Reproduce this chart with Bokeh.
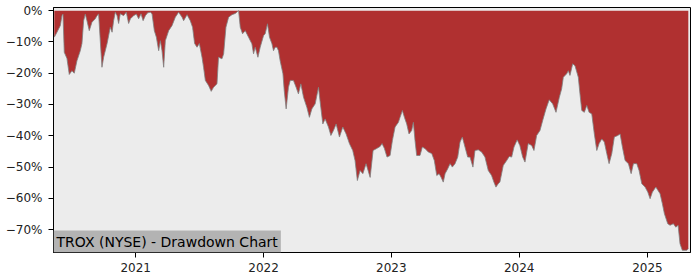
from datetime import datetime
from bokeh.plotting import figure
from bokeh.models import Range1d, FixedTicker, CustomJSTickFormatter, Label
from bokeh.embed import file_html
from bokeh.resources import INLINE

# ---- data ----
dec_years = [
    2020.365, 2020.386, 2020.412, 2020.425, 2020.433, 2020.443, 2020.464, 2020.482, 2020.503, 2020.521,
    2020.542, 2020.568, 2020.581, 2020.594, 2020.607, 2020.620, 2020.638, 2020.659, 2020.685, 2020.698,
    2020.711, 2020.724, 2020.737, 2020.750, 2020.777, 2020.802, 2020.816, 2020.828, 2020.841, 2020.855,
    2020.867, 2020.880, 2020.906, 2020.927, 2020.945, 2020.959, 2020.984, 2021.005, 2021.023, 2021.042,
    2021.058, 2021.076, 2021.094, 2021.115, 2021.128, 2021.146, 2021.162, 2021.180, 2021.193, 2021.206,
    2021.219, 2021.232, 2021.258, 2021.284, 2021.310, 2021.336, 2021.363, 2021.375, 2021.402, 2021.427,
    2021.445, 2021.461, 2021.480, 2021.498, 2021.519, 2021.531, 2021.545, 2021.570, 2021.591, 2021.609,
    2021.636, 2021.648, 2021.675, 2021.688, 2021.706, 2021.727, 2021.753, 2021.779, 2021.805, 2021.818,
    2021.836, 2021.857, 2021.883, 2021.909, 2021.922, 2021.935, 2021.956, 2021.974, 2022.000, 2022.013,
    2022.031, 2022.047, 2022.066, 2022.078, 2022.091, 2022.105, 2022.117, 2022.130, 2022.152, 2022.162,
    2022.177, 2022.195, 2022.209, 2022.234, 2022.255, 2022.273, 2022.292, 2022.313, 2022.339, 2022.359,
    2022.378, 2022.404, 2022.430, 2022.448, 2022.464, 2022.482, 2022.508, 2022.527, 2022.547, 2022.568,
    2022.594, 2022.620, 2022.646, 2022.672, 2022.698, 2022.716, 2022.734, 2022.755, 2022.777, 2022.802,
    2022.834, 2022.857, 2022.888, 2022.912, 2022.927, 2022.945, 2022.966, 2022.990, 2023.008, 2023.029,
    2023.055, 2023.068, 2023.086, 2023.102, 2023.120, 2023.138, 2023.159, 2023.172, 2023.185, 2023.198,
    2023.224, 2023.242, 2023.263, 2023.289, 2023.316, 2023.336, 2023.355, 2023.373, 2023.388, 2023.406,
    2023.420, 2023.441, 2023.459, 2023.477, 2023.498, 2023.519, 2023.537, 2023.555, 2023.576, 2023.597,
    2023.615, 2023.638, 2023.654, 2023.680, 2023.706, 2023.732, 2023.758, 2023.784, 2023.802, 2023.818,
    2023.836, 2023.849, 2023.875, 2023.902, 2023.922, 2023.941, 2023.959, 2023.984, 2024.005, 2024.027,
    2024.045, 2024.070, 2024.097, 2024.115, 2024.136, 2024.162, 2024.183, 2024.209, 2024.234, 2024.261,
    2024.287, 2024.313, 2024.331, 2024.344, 2024.370, 2024.383, 2024.396, 2024.417, 2024.435, 2024.461,
    2024.474, 2024.488, 2024.508, 2024.527, 2024.545, 2024.566, 2024.586, 2024.605, 2024.623, 2024.644,
    2024.664, 2024.683, 2024.701, 2024.722, 2024.742, 2024.769, 2024.787, 2024.805, 2024.826, 2024.852,
    2024.873, 2024.891, 2024.917, 2024.935, 2024.956, 2024.982, 2025.003, 2025.021, 2025.039, 2025.066,
    2025.099, 2025.117, 2025.133, 2025.159, 2025.177, 2025.203, 2025.222, 2025.240, 2025.255, 2025.273,
    2025.308, 2025.320,
]
drawdown_pct = [
    -8.5, -6.9, -4.8, -1.6, -1.1, -13.3, -15.3, -20.4, -19.2, -20.0,
    -16.0, -12.8, -10.5, -3.2, -1.1, -3.2, -6.4, -3.7, -2.6, -1.6,
    -1.1, -9.6, -18.1, -14.9, -10.5, -5.3, -6.9, -3.2, -0.5, -1.6,
    -4.1, -1.0, -1.6, -0.5, -4.1, -2.6, -1.6, -1.1, -2.6, -1.0,
    -3.2, -1.6, -0.7, -0.5, -1.0, -6.4, -8.5, -12.8, -9.6, -12.8,
    -18.1, -9.6, -6.4, -4.8, -2.1, -0.5, -2.1, -3.2, -1.3, -3.2,
    -5.3, -10.5, -11.7, -10.5, -14.9, -18.1, -22.3, -23.9, -25.8, -24.5,
    -23.4, -14.9, -15.4, -13.8, -5.3, -2.1, -1.3, -0.9, 0.0, -5.3,
    -7.4, -6.4, -8.5, -10.6, -13.8, -11.7, -14.9, -11.7, -8.0, -7.4,
    -4.2, -8.5, -10.6, -12.8, -11.7, -11.7, -12.8, -16.0, -20.2, -25.5,
    -31.4, -24.5, -22.3, -22.3, -24.5, -26.6, -23.4, -27.7, -30.9, -34.1,
    -31.4, -29.8, -24.5, -30.9, -36.2, -34.6, -37.2, -39.9, -38.3, -36.2,
    -40.4, -37.2, -39.4, -42.5, -44.7, -47.9, -54.3, -51.1, -52.1, -48.9,
    -53.3, -44.7, -44.0, -43.4, -42.5, -44.0, -46.8, -46.3, -41.5, -37.2,
    -35.7, -34.1, -31.9, -34.1, -36.2, -39.4, -38.3, -35.7, -41.5, -46.3,
    -46.3, -43.6, -44.1, -45.2, -45.7, -47.9, -52.7, -52.1, -53.2, -54.8,
    -52.1, -50.5, -48.9, -50.0, -48.9, -46.8, -42.0, -40.4, -43.6, -46.8,
    -46.8, -50.0, -44.7, -44.5, -45.2, -46.8, -51.1, -52.7, -54.8, -56.4,
    -55.3, -54.8, -49.5, -47.9, -46.6, -46.8, -43.6, -41.3, -43.1, -46.8,
    -48.4, -42.5, -43.1, -44.7, -39.9, -38.3, -35.1, -31.4, -28.5, -29.8,
    -32.5, -27.7, -25.0, -21.3, -20.2, -19.2, -20.7, -17.0, -17.6, -21.3,
    -26.6, -31.9, -32.5, -30.3, -32.5, -33.0, -39.4, -44.7, -42.5, -41.0,
    -42.0, -45.7, -48.9, -45.7, -40.4, -39.9, -39.4, -43.6, -47.9, -48.9,
    -52.1, -48.9, -48.9, -51.1, -55.3, -56.4, -58.0, -60.1, -58.0, -56.4,
    -58.5, -61.7, -64.9, -68.1, -68.6, -68.1, -69.2, -68.6, -74.5, -76.6,
    -76.6, -76.0,
]
year_ticks = [2021, 2022, 2023, 2024, 2025]
pct_ticks = [0, -10, -20, -30, -40, -50, -60, -70]
title_text = "TROX (NYSE) - Drawdown Chart"


def to_dt(t):
    y = int(t)
    start = datetime(y, 1, 1)
    end = datetime(y + 1, 1, 1)
    return start + (end - start) * (t - y)


dates = [to_dt(t) for t in dec_years]

x_start = to_dt(2020.359)
x_end = to_dt(2025.337)
y_lo, y_hi = -77.3, 1.0

p = figure(width=700, height=280, x_axis_type="datetime",
           output_backend="svg", toolbar_location=None,
           x_range=Range1d(x_start, x_end), y_range=Range1d(y_lo, y_hi),
           min_border_left=53, min_border_right=10, min_border_top=7,
           min_border_bottom=28)

p.background_fill_color = "#ececec"
p.border_fill_color = "white"
p.outline_line_color = "black"
p.outline_line_width = 1
p.xgrid.visible = False
p.ygrid.visible = False

p.varea(x=dates, y1=0, y2=drawdown_pct, fill_color="#b03030")
p.line(x=dates, y=drawdown_pct, line_color="#808080", line_width=1, line_alpha=0.8)

tick_ms = [datetime(y, 1, 1).timestamp() * 1000 for y in year_ticks]
p.xaxis.ticker = FixedTicker(ticks=tick_ms)
p.xaxis.formatter = CustomJSTickFormatter(code="return String(new Date(tick).getUTCFullYear());")
p.yaxis.ticker = FixedTicker(ticks=pct_ticks)
p.yaxis.formatter = CustomJSTickFormatter(
    code="return (tick < 0 ? '\u2212' : '') + Math.abs(tick).toFixed(0) + '%';")

for ax in (p.xaxis[0], p.yaxis[0]):
    ax.axis_line_color = "black"
    ax.major_tick_line_color = "black"
    ax.major_tick_out = 5
    ax.major_tick_in = 0
    ax.minor_tick_line_color = None
    ax.major_label_text_font = "DejaVu Sans"
    ax.major_label_text_font_size = "12px"
    ax.major_label_text_color = "#222222"
p.yaxis.major_label_standoff = 6
p.xaxis.major_label_standoff = 5

lbl = Label(x=x_start, y=y_lo, text=title_text, text_align="left",
            text_baseline="bottom", text_font="DejaVu Sans",
            text_font_size="14px", text_color="black",
            background_fill_color="#b3b3b3", padding=3)
p.add_layout(lbl)

open("out.html", "w").write(file_html(p, INLINE))
